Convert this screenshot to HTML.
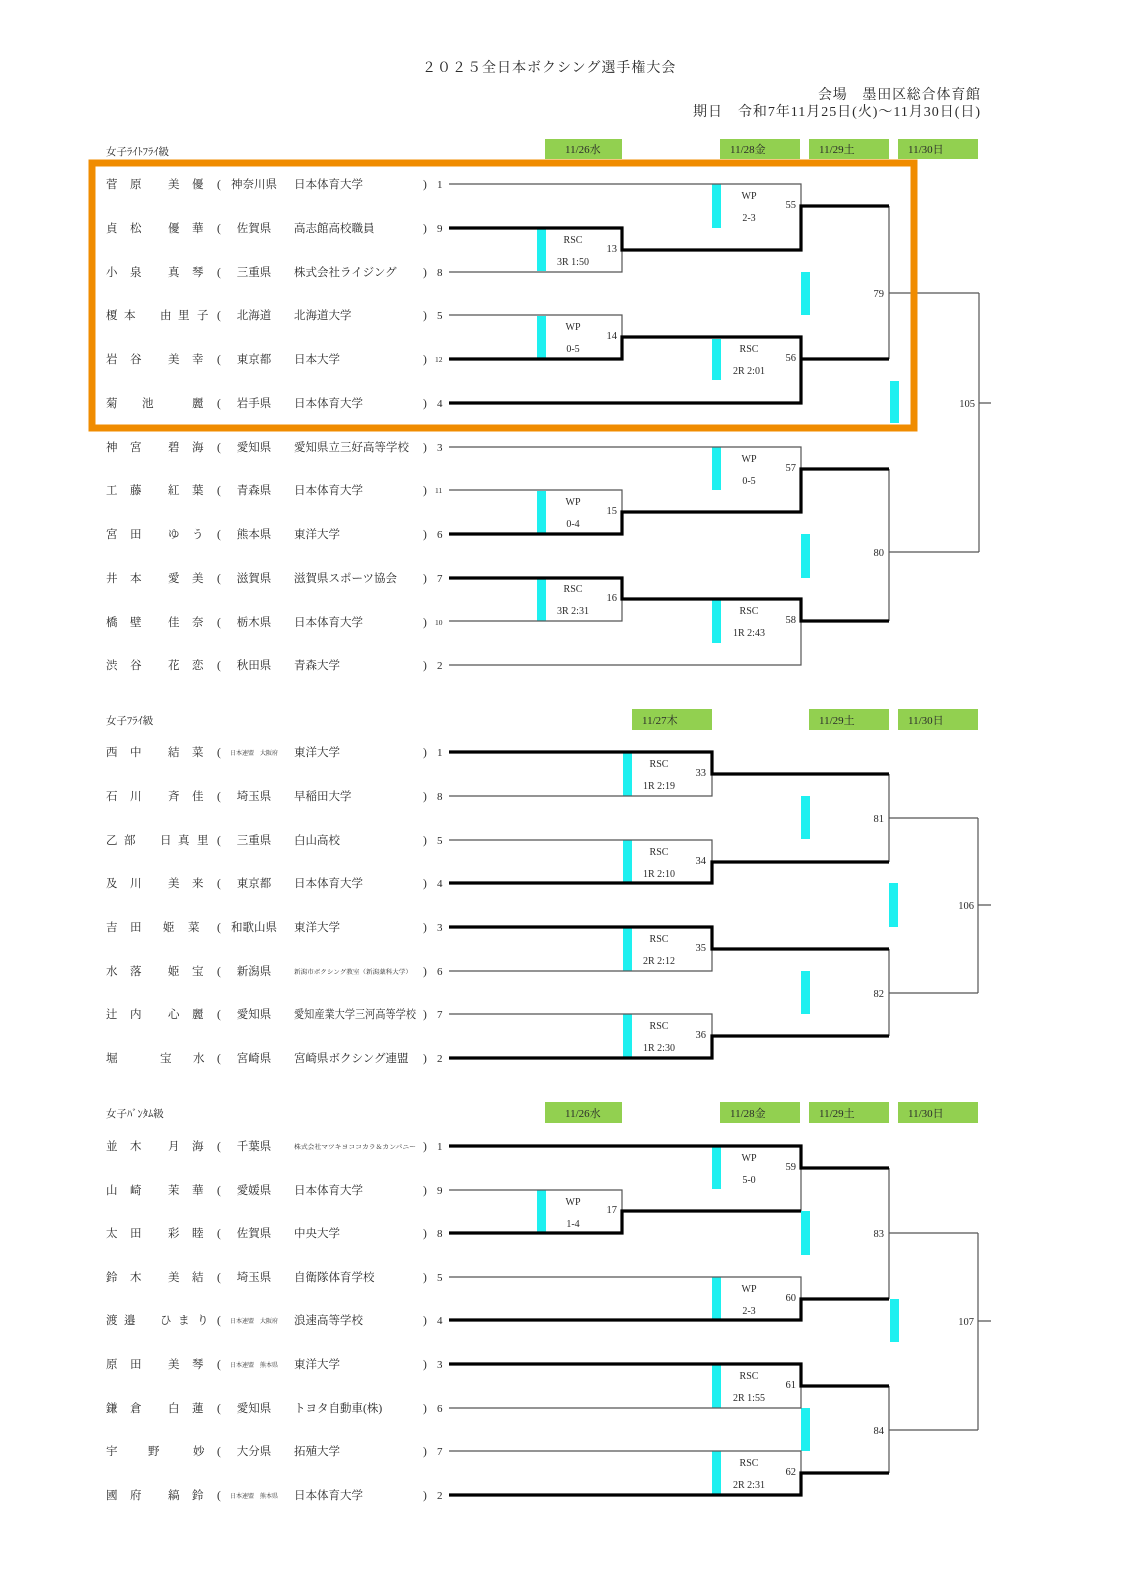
<!DOCTYPE html>
<html><head><meta charset="utf-8">
<style>
html,body{margin:0;padding:0;background:#fff;}
svg{display:block;}
text{font-family:"Liberation Serif","Noto Serif CJK JP","Noto Serif CJK SC",serif;fill:#2a2a2a;}
.nm{font-size:11.5px;}
.sm{font-size:6px;}
.sd{font-size:11px;}
.ss{font-size:7.5px;}
.lb{font-size:10px;text-anchor:middle;}
.no{font-size:10.5px;text-anchor:end;}
.dt{font-size:11px;}
.thin{fill:none;stroke:#555;stroke-width:1.2;}
.thick{fill:none;stroke:#000;stroke-width:3.2;}
.cy{fill:#1ef0f0;}
.gr{fill:#92d050;}
</style></head><body>
<svg width="1128" height="1581" viewBox="0 0 1128 1581" xmlns="http://www.w3.org/2000/svg">
<!-- header -->
<text x="422" y="72" style="font-size:14px" letter-spacing="1">２０２５全日本ボクシング選手権大会</text>
<text x="818" y="99" style="font-size:14px" textLength="162" lengthAdjust="spacing">会場　墨田区総合体育館</text>
<text x="693" y="116" style="font-size:14px" textLength="287" lengthAdjust="spacing">期日　令和7年11月25日(火)～11月30日(日)</text>

<!-- ============ Section 1 ============ -->
<text x="106" y="155" style="font-size:10.5px">女子ﾗｲﾄﾌﾗｲ級</text>
<rect class="gr" x="545" y="139" width="77" height="20"/><text class="dt" x="565" y="153">11/26水</text>
<rect class="gr" x="720" y="139" width="80" height="20"/><text class="dt" x="730" y="153">11/28金</text>
<rect class="gr" x="809" y="139" width="80" height="20"/><text class="dt" x="819" y="153">11/29土</text>
<rect class="gr" x="898" y="139" width="80" height="20"/><text class="dt" x="908" y="153">11/30日</text>

<g class="nm">
<text x="106 130 168 192" y="188">菅原美優</text><text x="217" y="188">(</text><text x="254" y="188" text-anchor="middle">神奈川県</text><text x="294" y="188">日本体育大学</text><text x="423" y="188">)</text>
<text x="106 130 168 192" y="232">貞松優華</text><text x="217" y="232">(</text><text x="254" y="232" text-anchor="middle">佐賀県</text><text x="294" y="232">高志館高校職員</text><text x="423" y="232">)</text>
<text x="106 130 168 192" y="276">小泉真琴</text><text x="217" y="276">(</text><text x="254" y="276" text-anchor="middle">三重県</text><text x="294" y="276">株式会社ライジング</text><text x="423" y="276">)</text>
<text x="106 124 160 178 197" y="319">榎本由里子</text><text x="217" y="319">(</text><text x="254" y="319" text-anchor="middle">北海道</text><text x="294" y="319">北海道大学</text><text x="423" y="319">)</text>
<text x="106 130 168 192" y="363">岩谷美幸</text><text x="217" y="363">(</text><text x="254" y="363" text-anchor="middle">東京都</text><text x="294" y="363">日本大学</text><text x="423" y="363">)</text>
<text x="106 142 192" y="407">菊池麗</text><text x="217" y="407">(</text><text x="254" y="407" text-anchor="middle">岩手県</text><text x="294" y="407">日本体育大学</text><text x="423" y="407">)</text>
<text x="106 130 168 192" y="451">神宮碧海</text><text x="217" y="451">(</text><text x="254" y="451" text-anchor="middle">愛知県</text><text x="294" y="451">愛知県立三好高等学校</text><text x="423" y="451">)</text>
<text x="106 130 168 192" y="494">工藤紅葉</text><text x="217" y="494">(</text><text x="254" y="494" text-anchor="middle">青森県</text><text x="294" y="494">日本体育大学</text><text x="423" y="494">)</text>
<text x="106 130 168 192" y="538">宮田ゆう</text><text x="217" y="538">(</text><text x="254" y="538" text-anchor="middle">熊本県</text><text x="294" y="538">東洋大学</text><text x="423" y="538">)</text>
<text x="106 130 168 192" y="582">井本愛美</text><text x="217" y="582">(</text><text x="254" y="582" text-anchor="middle">滋賀県</text><text x="294" y="582">滋賀県スポーツ協会</text><text x="423" y="582">)</text>
<text x="106 130 168 192" y="626">橋壁佳奈</text><text x="217" y="626">(</text><text x="254" y="626" text-anchor="middle">栃木県</text><text x="294" y="626">日本体育大学</text><text x="423" y="626">)</text>
<text x="106 130 168 192" y="669">渋谷花恋</text><text x="217" y="669">(</text><text x="254" y="669" text-anchor="middle">秋田県</text><text x="294" y="669">青森大学</text><text x="423" y="669">)</text>
</g>
<g class="sd">
<text x="437" y="188">1</text><text x="437" y="232">9</text><text x="437" y="276">8</text><text x="437" y="319">5</text>
<text class="ss" x="435" y="362">12</text><text x="437" y="407">4</text><text x="437" y="451">3</text><text class="ss" x="435" y="493">11</text>
<text x="437" y="538">6</text><text x="437" y="582">7</text><text class="ss" x="435" y="625">10</text><text x="437" y="669">2</text>
</g>

<!-- cyan bars s1 -->
<rect class="cy" x="712" y="184" width="9" height="44"/>
<rect class="cy" x="537" y="229" width="9" height="42"/>
<rect class="cy" x="801" y="272" width="9" height="43"/>
<rect class="cy" x="537" y="316" width="9" height="42"/>
<rect class="cy" x="712" y="339" width="9" height="41"/>
<rect class="cy" x="890" y="381" width="9" height="42"/>
<rect class="cy" x="712" y="447" width="9" height="43"/>
<rect class="cy" x="537" y="491" width="9" height="42"/>
<rect class="cy" x="801" y="534" width="9" height="44"/>
<rect class="cy" x="537" y="578" width="9" height="43"/>
<rect class="cy" x="712" y="600" width="9" height="43"/>

<!-- lines s1 -->
<path class="thin" d="M449,184 H801 V206 M449,272 H622 V250 M449,315 H622 V337 M889,206 V359 M889,293 H979"/>
<path class="thick" d="M449,228 H622 V250 H801 V206 H889 M449,359 H622 V337 H801 V359 H889 M449,403 H801 V359"/>
<path class="thin" d="M449,447 H801 V469 M449,490 H622 V512 M449,621 H622 V599 M449,665 H801 V621 M889,469 V621 M889,552 H979 M979,293 V552 M979,403 H991"/>
<path class="thick" d="M449,534 H622 V512 H801 V469 H889 M449,578 H622 V599 H801 V621 H889"/>

<!-- labels s1 -->
<text class="lb" x="573" y="243">RSC</text><text class="lb" x="573" y="265">3R 1:50</text><text class="no" x="617" y="252">13</text>
<text class="lb" x="573" y="330">WP</text><text class="lb" x="573" y="352">0-5</text><text class="no" x="617" y="339">14</text>
<text class="lb" x="749" y="199">WP</text><text class="lb" x="749" y="221">2-3</text><text class="no" x="796" y="208">55</text>
<text class="lb" x="749" y="352">RSC</text><text class="lb" x="749" y="374">2R 2:01</text><text class="no" x="796" y="361">56</text>
<text class="no" x="884" y="297">79</text>
<text class="lb" x="749" y="462">WP</text><text class="lb" x="749" y="484">0-5</text><text class="no" x="796" y="471">57</text>
<text class="lb" x="573" y="505">WP</text><text class="lb" x="573" y="527">0-4</text><text class="no" x="617" y="514">15</text>
<text class="lb" x="573" y="592">RSC</text><text class="lb" x="573" y="614">3R 2:31</text><text class="no" x="617" y="601">16</text>
<text class="lb" x="749" y="614">RSC</text><text class="lb" x="749" y="636">1R 2:43</text><text class="no" x="796" y="623">58</text>
<text class="no" x="884" y="556">80</text>
<text class="no" x="975" y="407">105</text>

<!-- orange frame -->
<rect x="92" y="163" width="822" height="265" fill="none" stroke="#f08c00" stroke-width="7"/>

<!-- ============ Section 2 ============ -->
<text x="106" y="724" style="font-size:10.5px">女子ﾌﾗｲ級</text>
<rect class="gr" x="632" y="709" width="80" height="21"/><text class="dt" x="642" y="724">11/27木</text>
<rect class="gr" x="809" y="709" width="80" height="21"/><text class="dt" x="819" y="724">11/29土</text>
<rect class="gr" x="898" y="709" width="80" height="21"/><text class="dt" x="908" y="724">11/30日</text>

<g class="nm">
<text x="106 130 168 192" y="756">西中結菜</text><text x="217" y="756">(</text><text class="sm" x="254" y="755" text-anchor="middle">日本連盟　大阪府</text><text x="294" y="756">東洋大学</text><text x="423" y="756">)</text>
<text x="106 130 168 192" y="800">石川斉佳</text><text x="217" y="800">(</text><text x="254" y="800" text-anchor="middle">埼玉県</text><text x="294" y="800">早稲田大学</text><text x="423" y="800">)</text>
<text x="106 124 160 178 197" y="844">乙部日真里</text><text x="217" y="844">(</text><text x="254" y="844" text-anchor="middle">三重県</text><text x="294" y="844">白山高校</text><text x="423" y="844">)</text>
<text x="106 130 168 192" y="887">及川美来</text><text x="217" y="887">(</text><text x="254" y="887" text-anchor="middle">東京都</text><text x="294" y="887">日本体育大学</text><text x="423" y="887">)</text>
<text x="106 130 163 188" y="931">吉田姫菜</text><text x="217" y="931">(</text><text x="254" y="931" text-anchor="middle">和歌山県</text><text x="294" y="931">東洋大学</text><text x="423" y="931">)</text>
<text x="106 130 168 192" y="975">水落姫宝</text><text x="217" y="975">(</text><text x="254" y="975" text-anchor="middle">新潟県</text><text class="sm" x="294" y="974" textLength="118" lengthAdjust="spacingAndGlyphs">新潟市ボクシング教室（新潟薬科大学）</text><text x="423" y="975">)</text>
<text x="106 130 168 192" y="1018">辻内心麗</text><text x="217" y="1018">(</text><text x="254" y="1018" text-anchor="middle">愛知県</text><text x="294" y="1018" textLength="122" lengthAdjust="spacingAndGlyphs">愛知産業大学三河高等学校</text><text x="423" y="1018">)</text>
<text x="106 160 193" y="1062">堀宝水</text><text x="217" y="1062">(</text><text x="254" y="1062" text-anchor="middle">宮崎県</text><text x="294" y="1062">宮崎県ボクシング連盟</text><text x="423" y="1062">)</text>
</g>
<g class="sd">
<text x="437" y="756">1</text><text x="437" y="800">8</text><text x="437" y="844">5</text><text x="437" y="887">4</text>
<text x="437" y="931">3</text><text x="437" y="975">6</text><text x="437" y="1018">7</text><text x="437" y="1062">2</text>
</g>

<rect class="cy" x="623" y="753" width="9" height="43"/>
<rect class="cy" x="623" y="840" width="9" height="43"/>
<rect class="cy" x="623" y="927" width="9" height="44"/>
<rect class="cy" x="623" y="1014" width="9" height="44"/>
<rect class="cy" x="801" y="796" width="9" height="43"/>
<rect class="cy" x="801" y="971" width="9" height="43"/>
<rect class="cy" x="889" y="883" width="9" height="44"/>

<path class="thin" d="M449,796 H712 V774 M449,840 H712 V862 M449,971 H712 V949 M449,1014 H712 V1036 M889,774 V862 M889,818 H978 M889,949 V1036 M889,993 H978 M978,818 V993 M978,905 H991"/>
<path class="thick" d="M449,752 H712 V774 H889 M449,883 H712 V862 H889 M449,927 H712 V949 H889 M449,1058 H712 V1036 H889"/>

<text class="lb" x="659" y="767">RSC</text><text class="lb" x="659" y="789">1R 2:19</text><text class="no" x="706" y="776">33</text>
<text class="lb" x="659" y="855">RSC</text><text class="lb" x="659" y="877">1R 2:10</text><text class="no" x="706" y="864">34</text>
<text class="lb" x="659" y="942">RSC</text><text class="lb" x="659" y="964">2R 2:12</text><text class="no" x="706" y="951">35</text>
<text class="lb" x="659" y="1029">RSC</text><text class="lb" x="659" y="1051">1R 2:30</text><text class="no" x="706" y="1038">36</text>
<text class="no" x="884" y="822">81</text>
<text class="no" x="884" y="997">82</text>
<text class="no" x="974" y="909">106</text>

<!-- ============ Section 3 ============ -->
<text x="106" y="1117" style="font-size:10.5px">女子ﾊﾞﾝﾀﾑ級</text>
<rect class="gr" x="545" y="1102" width="77" height="21"/><text class="dt" x="565" y="1117">11/26水</text>
<rect class="gr" x="720" y="1102" width="80" height="21"/><text class="dt" x="730" y="1117">11/28金</text>
<rect class="gr" x="809" y="1102" width="80" height="21"/><text class="dt" x="819" y="1117">11/29土</text>
<rect class="gr" x="898" y="1102" width="80" height="21"/><text class="dt" x="908" y="1117">11/30日</text>

<g class="nm">
<text x="106 130 168 192" y="1150">並木月海</text><text x="217" y="1150">(</text><text x="254" y="1150" text-anchor="middle">千葉県</text><text class="sm" x="294" y="1149" textLength="122" lengthAdjust="spacingAndGlyphs">株式会社マツキヨココカラ＆カンパニー</text><text x="423" y="1150">)</text>
<text x="106 130 168 192" y="1194">山崎茉華</text><text x="217" y="1194">(</text><text x="254" y="1194" text-anchor="middle">愛媛県</text><text x="294" y="1194">日本体育大学</text><text x="423" y="1194">)</text>
<text x="106 130 168 192" y="1237">太田彩睦</text><text x="217" y="1237">(</text><text x="254" y="1237" text-anchor="middle">佐賀県</text><text x="294" y="1237">中央大学</text><text x="423" y="1237">)</text>
<text x="106 130 168 192" y="1281">鈴木美結</text><text x="217" y="1281">(</text><text x="254" y="1281" text-anchor="middle">埼玉県</text><text x="294" y="1281">自衛隊体育学校</text><text x="423" y="1281">)</text>
<text x="106 124 160 178 197" y="1324">渡邉ひまり</text><text x="217" y="1324">(</text><text class="sm" x="254" y="1323" text-anchor="middle">日本連盟　大阪府</text><text x="294" y="1324">浪速高等学校</text><text x="423" y="1324">)</text>
<text x="106 130 168 192" y="1368">原田美琴</text><text x="217" y="1368">(</text><text class="sm" x="254" y="1367" text-anchor="middle">日本連盟　熊本県</text><text x="294" y="1368">東洋大学</text><text x="423" y="1368">)</text>
<text x="106 130 168 192" y="1412">鎌倉白蓮</text><text x="217" y="1412">(</text><text x="254" y="1412" text-anchor="middle">愛知県</text><text x="294" y="1412">トヨタ自動車(株)</text><text x="423" y="1412">)</text>
<text x="106 148 193" y="1455">宇野妙</text><text x="217" y="1455">(</text><text x="254" y="1455" text-anchor="middle">大分県</text><text x="294" y="1455">拓殖大学</text><text x="423" y="1455">)</text>
<text x="106 130 168 192" y="1499">國府縞鈴</text><text x="217" y="1499">(</text><text class="sm" x="254" y="1498" text-anchor="middle">日本連盟　熊本県</text><text x="294" y="1499">日本体育大学</text><text x="423" y="1499">)</text>
</g>
<g class="sd">
<text x="437" y="1150">1</text><text x="437" y="1194">9</text><text x="437" y="1237">8</text><text x="437" y="1281">5</text><text x="437" y="1324">4</text>
<text x="437" y="1368">3</text><text x="437" y="1412">6</text><text x="437" y="1455">7</text><text x="437" y="1499">2</text>
</g>

<rect class="cy" x="537" y="1190" width="9" height="43"/>
<rect class="cy" x="712" y="1147" width="9" height="42"/>
<rect class="cy" x="801" y="1211" width="9" height="44"/>
<rect class="cy" x="712" y="1277" width="9" height="43"/>
<rect class="cy" x="890" y="1299" width="9" height="43"/>
<rect class="cy" x="712" y="1364" width="9" height="44"/>
<rect class="cy" x="801" y="1408" width="9" height="43"/>
<rect class="cy" x="712" y="1451" width="9" height="44"/>

<path class="thin" d="M449,1190 H622 V1211 M801,1168 V1211 M449,1277 H801 V1299 M449,1408 H801 V1386 M449,1451 H801 V1473 M889,1168 V1299 M889,1233 H978 M889,1386 V1473 M889,1430 H978 M978,1233 V1430 M978,1321 H991"/>
<path class="thick" d="M449,1233 H622 V1211 H801 M449,1146 H801 V1168 H889 M449,1320 H801 V1299 H889 M449,1364 H801 V1386 H889 M449,1495 H801 V1473 H889"/>

<text class="lb" x="573" y="1205">WP</text><text class="lb" x="573" y="1227">1-4</text><text class="no" x="617" y="1213">17</text>
<text class="lb" x="749" y="1161">WP</text><text class="lb" x="749" y="1183">5-0</text><text class="no" x="796" y="1170">59</text>
<text class="lb" x="749" y="1292">WP</text><text class="lb" x="749" y="1314">2-3</text><text class="no" x="796" y="1301">60</text>
<text class="lb" x="749" y="1379">RSC</text><text class="lb" x="749" y="1401">2R 1:55</text><text class="no" x="796" y="1388">61</text>
<text class="lb" x="749" y="1466">RSC</text><text class="lb" x="749" y="1488">2R 2:31</text><text class="no" x="796" y="1475">62</text>
<text class="no" x="884" y="1237">83</text>
<text class="no" x="884" y="1434">84</text>
<text class="no" x="974" y="1325">107</text>
</svg>
</body></html>
